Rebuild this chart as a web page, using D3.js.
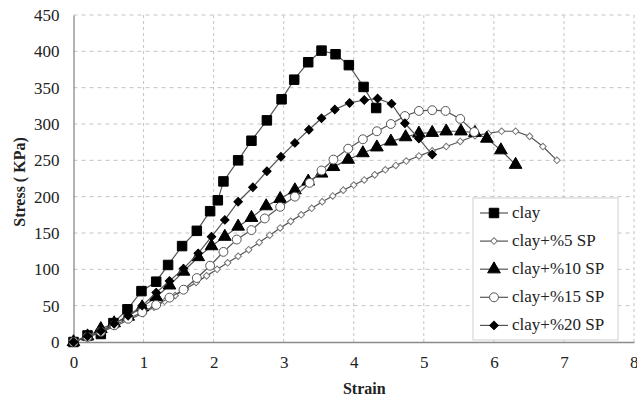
<!DOCTYPE html>
<html>
<head>
<meta charset="utf-8">
<script src="https://cdn.jsdelivr.net/npm/d3@7"></script>
<style>
  body { margin: 0; background: #fff; }
  text { font-family: "Liberation Serif", "Times New Roman", serif; fill: #222; }
</style>
</head>
<body>
<svg id="chart"></svg>
<script>
// [strain, stress (KPa)]
const clay = [[0,0],[0.2,9],[0.39,11],[0.57,26],[0.77,45],[0.97,70],[1.18,83],[1.35,106],[1.55,132],
  [1.76,153],[1.95,180],[2.06,195],[2.14,221],[2.35,250],[2.54,277],[2.76,305],[2.97,334],[3.15,361],
  [3.35,385],[3.54,401],[3.74,396],[3.93,381],[4.14,351],[4.32,322]];

const clay5 = [[0,0],[0.2,7],[0.4,14],[0.6,22],[0.8,31],[1.0,40],[1.15,48],[1.3,56],[1.45,64],[1.6,73],
  [1.75,82],[1.9,91],[2.05,100],[2.2,109],[2.35,118],[2.5,127],[2.65,137],[2.8,147],[2.95,157],[3.1,166],
  [3.25,175],[3.4,184],[3.55,193],[3.7,201],[3.85,209],[4.0,216],[4.15,223],[4.3,230],[4.45,237],[4.6,243],
  [4.75,249],[4.93,256],[5.12,263],[5.32,269],[5.52,276],[5.73,284],[5.92,287],[6.11,290],[6.31,290],
  [6.51,283],[6.7,269],[6.9,250]];

const clay10 = [[0,0],[0.2,8],[0.39,18],[0.58,26],[0.78,35],[0.98,48],[1.18,62],[1.37,78],[1.57,97],
  [1.78,117],[1.97,132],[2.16,145],[2.35,159],[2.54,171],[2.75,187],[2.95,197],[3.16,209],[3.35,221],
  [3.54,232],[3.71,241],[3.92,251],[4.13,260],[4.33,268],[4.53,276],[4.74,282],[4.93,287],[5.12,288],
  [5.32,290],[5.53,290],[5.73,288],[5.9,280],[6.1,264],[6.31,244]];

const clay15 = [[0,0],[0.2,7],[0.39,14],[0.58,23],[0.78,32],[0.98,41],[1.18,51],[1.37,61],[1.57,72],
  [1.76,88],[1.95,105],[2.14,124],[2.33,141],[2.54,154],[2.73,170],[2.95,186],[3.16,200],[3.37,219],
  [3.54,236],[3.71,251],[3.92,266],[4.13,279],[4.33,290],[4.53,300],[4.73,311],[4.93,318],[5.12,319],
  [5.31,318],[5.52,307],[5.72,289]];

const clay20 = [[0,0],[0.2,8],[0.39,15],[0.58,25],[0.78,36],[0.98,50],[1.18,68],[1.37,84],[1.57,101],
  [1.78,122],[1.97,145],[2.16,168],[2.35,193],[2.56,213],[2.76,235],[2.96,255],[3.16,274],[3.36,292],
  [3.54,308],[3.73,320],[3.94,329],[4.15,333],[4.34,335],[4.54,328],[4.73,301],[4.93,280],[5.12,258]];

const seriesNames = ['clay', 'clay+%5 SP', 'clay+%10 SP', 'clay+%15 SP', 'clay+%20 SP'];
const seriesData = [clay, clay5, clay10, clay15, clay20];
const xTicks = [0, 1, 2, 3, 4, 5, 6, 7, 8];
const yTicks = [0, 50, 100, 150, 200, 250, 300, 350, 400, 450];

class StressStrainChart {

    constructor( config ) {
        this.config = {
            parent: config.parent,
            width: config.width || 637,
            height: config.height || 403,
            margin: config.margin || {top:15, right:3, bottom:61, left:73.5}
        }
        this.init();
    }

    init() {
        let self = this;

        self.svg = d3.select( self.config.parent )
            .attr('width', self.config.width)
            .attr('height', self.config.height);

        self.chart = self.svg.append('g')
            .attr('transform', `translate(${self.config.margin.left}, ${self.config.margin.top})`);

        self.inner_width = self.config.width - self.config.margin.left - self.config.margin.right;
        self.inner_height = self.config.height - self.config.margin.top - self.config.margin.bottom;

        self.xscale = d3.scaleLinear()
            .domain( [0, 8] )
            .range( [0, self.inner_width] );

        self.yscale = d3.scaleLinear()
            .domain( [0, 450] )
            .range( [self.inner_height, 0] );

        self.line = d3.line()
            .x( d => self.xscale(d[0]) )
            .y( d => self.yscale(d[1]) );

        // marker shapes per series (diamonds = squares turned 45deg)
        self.markers = [
            {type: d3.symbolSquare, size: 90, rot: 0, fill: '#000', stroke: '#000'},
            {type: d3.symbolSquare, size: 22, rot: 45, fill: '#fff', stroke: '#777'},
            {type: d3.symbolTriangle, size: 70, rot: 0, fill: '#000', stroke: '#000'},
            {type: d3.symbolCircle, size: 62, rot: 0, fill: '#fff', stroke: '#555'},
            {type: d3.symbolSquare, size: 36, rot: 45, fill: '#000', stroke: '#000'}
        ];
    }

    render() {
        let self = this;

        // dashed grid
        self.chart.append('g')
            .selectAll('line')
            .data( yTicks.slice(1) )
            .join('line')
            .attr('x1', 0)
            .attr('x2', self.inner_width)
            .attr('y1', d => self.yscale(d))
            .attr('y2', d => self.yscale(d))
            .attr('stroke', '#c4c4c4')
            .attr('stroke-dasharray', '4,4');

        self.chart.append('g')
            .selectAll('line')
            .data( xTicks.slice(1) )
            .join('line')
            .attr('x1', d => self.xscale(d))
            .attr('x2', d => self.xscale(d))
            .attr('y1', 0)
            .attr('y2', self.inner_height)
            .attr('stroke', '#c4c4c4')
            .attr('stroke-dasharray', '3,3');

        // axes
        const xaxis = d3.axisBottom( self.xscale )
            .tickValues( xTicks )
            .tickSize(0)
            .tickPadding(14);
        const yaxis = d3.axisLeft( self.yscale )
            .tickValues( yTicks )
            .tickSize(0)
            .tickPadding(14);

        const xg = self.chart.append('g')
            .attr('transform', `translate(0, ${self.inner_height})`)
            .call( xaxis );
        const yg = self.chart.append('g')
            .call( yaxis );

        [xg, yg].forEach( g => {
            g.select('.domain').attr('stroke', '#8a8a8a').attr('stroke-width', 1.3);
            g.selectAll('text')
                .style('font-family', '"Liberation Serif", serif')
                .style('font-size', '17px')
                .attr('fill', '#333');
        });
        // last x label sits on the right edge; keep it inside the page
        xg.selectAll('.tick text').filter( d => d === 8 ).attr('text-anchor', 'end').attr('dx', '4');

        // series lines and markers
        seriesData.forEach( (data, i) => {
            const m = self.markers[i];
            self.chart.append('path')
                .attr('d', self.line(data))
                .attr('fill', 'none')
                .attr('stroke', '#555')
                .attr('stroke-width', 1.2);

            self.chart.append('g')
                .selectAll('path')
                .data( data )
                .join('path')
                .attr('transform', d => `translate(${self.xscale(d[0])}, ${self.yscale(d[1])}) rotate(${m.rot})`)
                .attr('d', d3.symbol().type(m.type).size(m.size))
                .attr('fill', m.fill)
                .attr('stroke', m.stroke)
                .attr('stroke-width', 1);
        });

        // axis titles
        self.svg.append('text')
            .attr('x', self.config.margin.left + self.xscale(4.15))
            .attr('y', 394)
            .attr('text-anchor', 'middle')
            .style('font-weight', 'bold')
            .style('font-size', '16px')
            .text('Strain');

        self.svg.append('text')
            .attr('transform', 'translate(25, 182) rotate(-90)')
            .attr('text-anchor', 'middle')
            .style('font-weight', 'bold')
            .style('font-size', '16px')
            .text('Stress ( KPa)');

        // legend
        const legend = self.svg.append('g')
            .attr('transform', 'translate(473, 198)');

        legend.append('rect')
            .attr('width', 145)
            .attr('height', 142)
            .attr('fill', '#fff')
            .attr('stroke', '#d0d0d0');

        const item = legend.selectAll('g.item')
            .data( seriesNames )
            .join('g')
            .attr('class', 'item')
            .attr('transform', (d, i) => `translate(0, ${15 + i * 28.1})`);

        item.append('line')
            .attr('x1', 7)
            .attr('x2', 35)
            .attr('stroke', '#555')
            .attr('stroke-width', 1.2);

        item.append('path')
            .attr('transform', (d, i) => `translate(21, 0) rotate(${self.markers[i].rot})`)
            .attr('d', (d, i) => d3.symbol().type(self.markers[i].type).size(self.markers[i].size)())
            .attr('fill', (d, i) => self.markers[i].fill)
            .attr('stroke', (d, i) => self.markers[i].stroke);

        item.append('text')
            .attr('x', 39)
            .attr('y', 5)
            .style('font-size', '17px')
            .text( d => d );
    }
}

const chart = new StressStrainChart({ parent: '#chart' });
chart.render();
</script>
</body>
</html>
